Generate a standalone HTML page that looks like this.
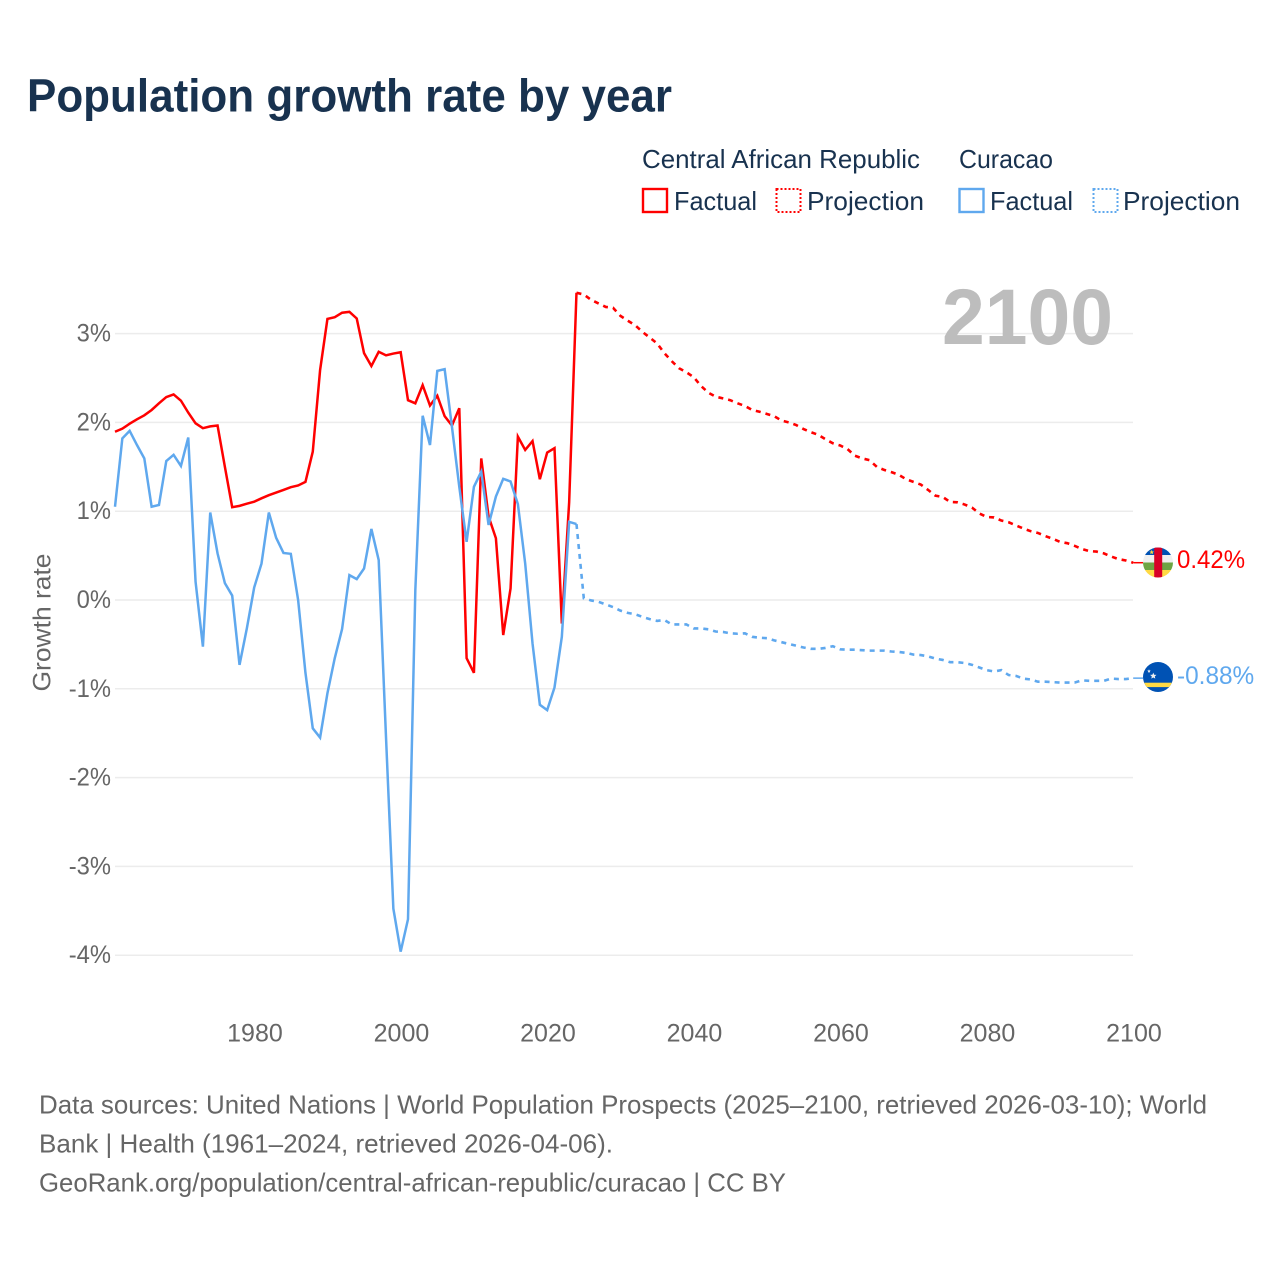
<!DOCTYPE html>
<html lang="en">
<head>
<meta charset="utf-8">
<title>Population growth rate by year</title>
<style>
html,body{margin:0;padding:0;background:#fff;}
body{width:1280px;height:1280px;overflow:hidden;}
svg{display:block;font-family:"Liberation Sans",Arial,sans-serif;}
</style>
</head>
<body>
<svg id="chart" width="1280" height="1280" viewBox="0 0 1280 1280" xmlns="http://www.w3.org/2000/svg">
  <defs>
    <clipPath id="flag-clip-caf"><circle cx="1158" cy="562.5" r="15"/></clipPath>
    <clipPath id="flag-clip-cuw"><circle cx="1158" cy="677" r="15"/></clipPath>
  </defs>
  <rect width="1280" height="1280" fill="#fff"/>
  <text x="27" y="111.5" font-size="46" font-weight="700" fill="#18324f" textLength="645" lengthAdjust="spacingAndGlyphs">Population growth rate by year</text>

  <g font-size="26" fill="#18324f">
    <text x="642" y="168" textLength="278" lengthAdjust="spacingAndGlyphs">Central African Republic</text>
    <text x="959" y="168" textLength="94" lengthAdjust="spacingAndGlyphs">Curacao</text>
    <rect x="643" y="189" width="24" height="23" fill="none" stroke="#ff0000" stroke-width="2.4"/>
    <text x="674" y="210" textLength="83" lengthAdjust="spacingAndGlyphs">Factual</text>
    <rect x="776.5" y="189" width="24" height="23" fill="none" stroke="#ff0000" stroke-width="2" stroke-dasharray="2 2"/>
    <text x="807" y="210" textLength="117" lengthAdjust="spacingAndGlyphs">Projection</text>
    <rect x="959.5" y="189" width="24" height="23" fill="none" stroke="#5fa8ee" stroke-width="2.4"/>
    <text x="990" y="210" textLength="83" lengthAdjust="spacingAndGlyphs">Factual</text>
    <rect x="1093.5" y="189" width="24" height="23" fill="none" stroke="#5fa8ee" stroke-width="2" stroke-dasharray="2 2"/>
    <text x="1123" y="210" textLength="117" lengthAdjust="spacingAndGlyphs">Projection</text>
  </g>

  <g id="grid"></g>
  <g id="yticks"></g>
  <g id="xticks"></g>
  <text transform="translate(50.5,622.5) rotate(-90)" text-anchor="middle" font-size="25" fill="#666" textLength="138" lengthAdjust="spacingAndGlyphs">Growth rate</text>
  <text x="942" y="344" font-size="79" font-weight="700" fill="#bdbdbd" textLength="171" lengthAdjust="spacingAndGlyphs">2100</text>
  <g id="series"></g>

  <g clip-path="url(#flag-clip-caf)">
    <rect x="1143" y="547.5" width="30" height="7.5" fill="#0052b4"/>
    <rect x="1143" y="555" width="30" height="7.5" fill="#f0f0f0"/>
    <rect x="1143" y="562.5" width="30" height="7.5" fill="#6da544"/>
    <rect x="1143" y="570" width="30" height="8" fill="#ffda44"/>
    <rect x="1154.2" y="547.5" width="8" height="30" fill="#d80027"/>
    <polygon points="1151.7,549.8 1152.4,551.5 1154,551.5 1152.7,552.6 1153.2,554.2 1151.7,553.2 1150.2,554.2 1150.7,552.6 1149.4,551.5 1151,551.5" fill="#ffda44"/>
  </g>
  <g clip-path="url(#flag-clip-cuw)">
    <rect x="1143" y="662" width="30" height="30" fill="#0052b4"/>
    <rect x="1143" y="682.7" width="30" height="4.4" fill="#ffda44"/>
    <polygon points="1149,669.3 1149.5,670.5 1150.8,670.6 1149.8,671.4 1150.1,672.7 1149,672 1147.9,672.7 1148.2,671.4 1147.2,670.6 1148.5,670.5" fill="#f0f0f0"/>
    <polygon points="1153.3,672.6 1154.2,674.7 1156.5,674.9 1154.8,676.4 1155.3,678.6 1153.3,677.5 1151.3,678.6 1151.8,676.4 1150.1,674.9 1152.4,674.7" fill="#f0f0f0"/>
  </g>
  <g id="endlabels"></g>

  <g font-size="26" fill="#666">
    <text x="39" y="1113.5" textLength="1168" lengthAdjust="spacingAndGlyphs">Data sources: United Nations | World Population Prospects (2025–2100, retrieved 2026-03-10); World</text>
    <text x="39" y="1152.5" textLength="574" lengthAdjust="spacingAndGlyphs">Bank | Health (1961–2024, retrieved 2026-04-06).</text>
    <text x="39" y="1191.5" textLength="747" lengthAdjust="spacingAndGlyphs">GeoRank.org/population/central-african-republic/curacao | CC BY</text>
  </g>
</svg>
<script>
const factualStartYear = 1961;
const projectionStartYear = 2024;
const carFactual = [1.895,1.93,1.985,2.035,2.08,2.14,2.215,2.285,2.315,2.245,2.11,1.99,1.935,1.955,1.965,1.5,1.045,1.06,1.085,1.107,1.145,1.18,1.21,1.24,1.27,1.29,1.33,1.67,2.59,3.165,3.185,3.235,3.245,3.17,2.78,2.635,2.795,2.755,2.775,2.79,2.25,2.215,2.42,2.19,2.3,2.07,1.965,2.16,-0.655,-0.82,1.595,0.94,0.695,-0.395,0.13,1.84,1.69,1.79,1.36,1.66,1.71,-0.265,1.1,3.46];
const curFactual = [1.05,1.82,1.905,1.745,1.595,1.05,1.07,1.565,1.635,1.51,1.83,0.205,-0.525,0.985,0.525,0.19,0.05,-0.73,-0.32,0.14,0.41,0.985,0.7,0.53,0.52,0,-0.82,-1.445,-1.55,-1.05,-0.655,-0.327,0.28,0.235,0.355,0.8,0.45,-1.55,-3.475,-3.96,-3.595,0.11,2.075,1.745,2.58,2.6,1.95,1.275,0.655,1.275,1.445,0.845,1.165,1.365,1.335,1.08,0.41,-0.49,-1.18,-1.24,-0.985,-0.415,0.88,0.855];
const carProjection = [3.46,3.44,3.38,3.34,3.3,3.29,3.2,3.145,3.095,3.02,2.955,2.89,2.78,2.69,2.61,2.565,2.51,2.41,2.335,2.29,2.27,2.25,2.215,2.185,2.14,2.12,2.095,2.07,2.02,2,1.97,1.925,1.89,1.86,1.81,1.765,1.74,1.7,1.625,1.595,1.575,1.5,1.465,1.44,1.41,1.36,1.33,1.3,1.24,1.175,1.16,1.105,1.1,1.075,1.04,0.975,0.935,0.93,0.895,0.875,0.84,0.805,0.775,0.755,0.72,0.69,0.655,0.64,0.61,0.575,0.55,0.545,0.525,0.49,0.46,0.445,0.42];
const curProjection = [0.855,0.02,-0.005,-0.02,-0.05,-0.08,-0.12,-0.145,-0.16,-0.19,-0.215,-0.235,-0.225,-0.275,-0.275,-0.275,-0.32,-0.32,-0.33,-0.355,-0.36,-0.375,-0.38,-0.375,-0.415,-0.425,-0.43,-0.455,-0.475,-0.495,-0.515,-0.535,-0.55,-0.55,-0.54,-0.52,-0.555,-0.56,-0.56,-0.565,-0.57,-0.57,-0.57,-0.58,-0.585,-0.595,-0.615,-0.62,-0.635,-0.66,-0.675,-0.7,-0.7,-0.71,-0.73,-0.76,-0.79,-0.805,-0.79,-0.845,-0.855,-0.885,-0.895,-0.92,-0.92,-0.925,-0.93,-0.93,-0.93,-0.905,-0.91,-0.91,-0.91,-0.885,-0.89,-0.89,-0.88];
const yTickValues = [3,2,1,0,-1,-2,-3,-4];
const yTickLabels = ["3%","2%","1%","0%","-1%","-2%","-3%","-4%"];
const xTickValues = [1980,2000,2020,2040,2060,2080,2100];
const xTickLabels = ["1980","2000","2020","2040","2060","2080","2100"];
const endLabels = ["0.42%","-0.88%"];

const NS = "http://www.w3.org/2000/svg";
const RED = "#ff0000";
const BLUE = "#5fa8ee";
function xScale(year){ return 115 + (year - 1961) * 7.325; }
function yScale(v){ return 600 - v * 88.8; }
function linePath(values, startYear){
  return values.map(function(v, i){
    return (i ? "L" : "M") + xScale(startYear + i).toFixed(2) + " " + yScale(v).toFixed(2);
  }).join(" ");
}
function makeText(str, x, y, size, fill, anchor){
  const t = document.createElementNS(NS, "text");
  t.textContent = str;
  t.setAttribute("x", x);
  t.setAttribute("y", y);
  t.setAttribute("font-size", size);
  t.setAttribute("fill", fill);
  t.setAttribute("text-anchor", anchor);
  return t;
}
function makeLine(d, color, dashed, width){
  const p = document.createElementNS(NS, "path");
  p.setAttribute("d", d);
  p.setAttribute("fill", "none");
  p.setAttribute("stroke", color);
  p.setAttribute("stroke-width", width);
  p.setAttribute("stroke-linejoin", "miter");
  if (dashed) p.setAttribute("stroke-dasharray", "5 5");
  return p;
}
function squeeze(t, ratio){
  t.setAttribute("textLength", (t.getComputedTextLength() * ratio).toFixed(2));
  t.setAttribute("lengthAdjust", "spacingAndGlyphs");
}

const grid = document.getElementById("grid");
const yticks = document.getElementById("yticks");
yTickValues.forEach(function(v, i){
  const gl = document.createElementNS(NS, "line");
  
  
  gl.setAttribute("x1", xScale(1961));
  gl.setAttribute("x2", 1133);
  gl.setAttribute("y1", yScale(v));
  gl.setAttribute("y2", yScale(v));
  gl.setAttribute("stroke", "#ececec");
  gl.setAttribute("stroke-width", "1.5");
  grid.appendChild(gl);
  const t = makeText(yTickLabels[i], 111, yScale(v) + 8, 25, "#666", "end");
  
  
  yticks.appendChild(t);
  squeeze(t, 0.95);
});

const xticks = document.getElementById("xticks");
xTickValues.forEach(function(y, i){
  const t = makeText(xTickLabels[i], xScale(y) + 0.8, 1041.5, 25, "#666", "middle");
  
  
  xticks.appendChild(t);
});

const series = document.getElementById("series");
const carEnd = carProjection[carProjection.length - 1];
const curEnd = curProjection[curProjection.length - 1];
const carF = makeLine(linePath(carFactual, factualStartYear), RED, false, "2.5");


series.appendChild(carF);
const carP = makeLine(linePath(carProjection, projectionStartYear), RED, true, "2.6");


series.appendChild(carP);
const carTail = makeLine("M" + xScale(2100) + " " + yScale(carEnd) + " H1143", RED, false, "1.5");


series.appendChild(carTail);
const curF = makeLine(linePath(curFactual, factualStartYear), BLUE, false, "2.5");


series.appendChild(curF);
const curP = makeLine(linePath(curProjection, projectionStartYear), BLUE, true, "2.6");


series.appendChild(curP);
const curTail = makeLine("M" + xScale(2100) + " " + yScale(curEnd) + " H1143", BLUE, false, "1.5");


series.appendChild(curTail);

const endGroup = document.getElementById("endlabels");
const carLabel = makeText(endLabels[0], 1177, yScale(carEnd) + 5.5, 25, RED, "start");


endGroup.appendChild(carLabel);
squeeze(carLabel, 0.96);
const curLabel = makeText(endLabels[1], 1177, yScale(curEnd) + 6, 25, BLUE, "start");


endGroup.appendChild(curLabel);
squeeze(curLabel, 0.975);
</script>
</body>
</html>
